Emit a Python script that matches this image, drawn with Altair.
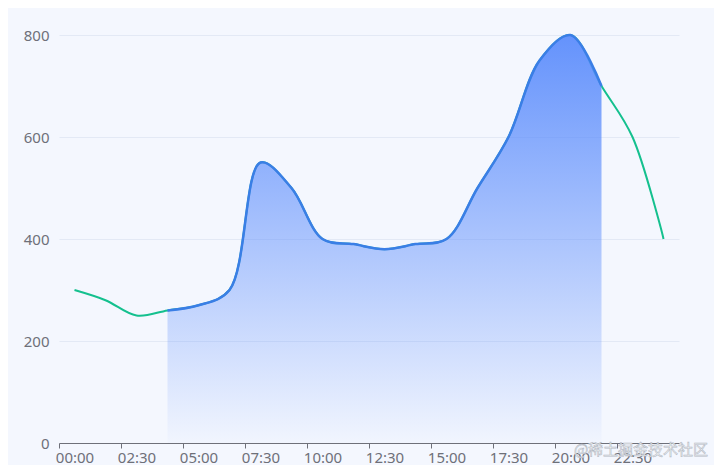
import altair as alt
import pandas as pd

times = ['00:00', '01:15', '02:30', '03:45', '05:00', '06:15', '07:30', '08:45',
         '10:00', '11:15', '12:30', '13:45', '15:00', '16:15', '17:30', '18:45',
         '20:00', '21:15', '22:30', '23:45']
values = [300, 280, 250, 260, 270, 300, 550, 500, 400, 390, 380, 390, 400, 500,
          600, 750, 800, 700, 600, 400]
area_start = 3
area_end = 17
label_times = times[::2]
watermark = "@稀土掘金技术社区"

df = pd.DataFrame({"time": times, "value": values})
df_area = df.iloc[area_start:area_end + 1]

x_enc = alt.X("time:O", sort=times, bandPosition=0.5,
              scale=alt.Scale(type="band", paddingInner=0, paddingOuter=0),
              axis=alt.Axis(values=label_times, labelAngle=0, tickOffset=-15.5,
                            labelOffset=15.5,
                            title=None, domainColor="#6e7079", tickColor="#6e7079",
                            labelColor="#6e7079", labelFontSize=15, tickSize=5,
                            labelPadding=2, grid=False, labelFont="Noto Sans"))
y_enc = alt.Y("value:Q", scale=alt.Scale(domain=[0, 800], nice=False),
              axis=alt.Axis(values=[0, 200, 400, 600, 800], title=None, domain=False,
                            ticks=False, labelColor="#6e7079", labelFontSize=15,
                            labelPadding=10, gridColor="#e3e9f5", gridWidth=1,
                            labelFont="Noto Sans"))

interp = "catmull-rom"

green = alt.Chart(df).mark_line(interpolate=interp, color="#14c08e",
                                strokeWidth=2).encode(x=x_enc, y=y_enc)

area = alt.Chart(df_area).mark_area(
    interpolate=interp,
    fill=alt.Gradient(gradient="linear", x1=0, y1=0, x2=0, y2=1,
                      stops=[alt.GradientStop(color="rgba(88,138,252,0.92)", offset=0),
                             alt.GradientStop(color="rgba(88,138,252,0.02)", offset=1)])
).encode(x=x_enc, y=y_enc)

blue = alt.Chart(df_area).mark_line(interpolate=interp, color="#3a7ee6",
                                    strokeWidth=2.5).encode(x=x_enc, y=y_enc)

wm = alt.Chart(pd.DataFrame({"t": [watermark]})).mark_text(
    font="Noto Sans CJK SC", fontSize=15, color="#ffffff", stroke="#b4bac4",
    strokeWidth=0.6, align="center", baseline="middle"
).encode(x=alt.value(582), y=alt.value(415), text="t:N")

chart = alt.layer(green, area, blue, wm).properties(
    width=620, height=408,
    background="#f4f7fe",
    padding={"left": 51, "top": 27, "right": 35, "bottom": 22},
    autosize=alt.AutoSizeParams(type="none"),
).configure_view(stroke=None)

chart.save("out.html", embed_options={"renderer": "svg", "actions": False})
